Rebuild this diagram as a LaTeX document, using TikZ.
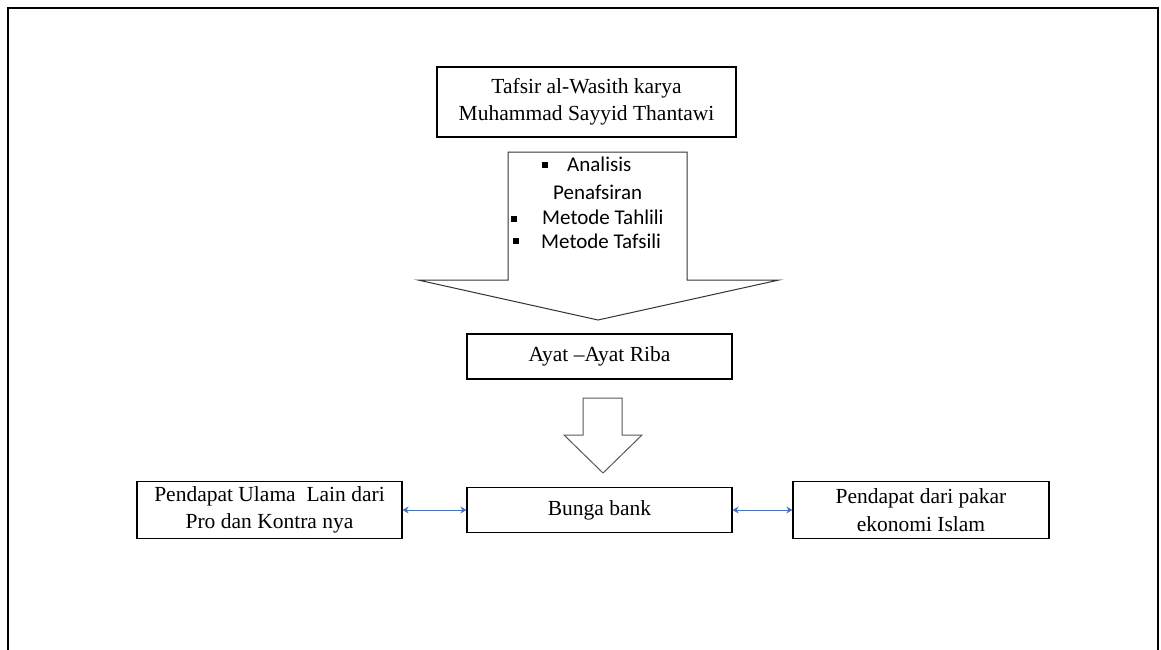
\documentclass[tikz,border=0pt]{standalone}
\usepackage{fontspec}
\setmainfont{Liberation Serif}
\newfontfamily\calib{Carlito}
\usetikzlibrary{arrows.meta}
\definecolor{linkblue}{RGB}{68,114,196}
\begin{document}
\begin{tikzpicture}[x=1pt,y=-1pt,
  box/.style={draw=black, line width=1.2pt, inner sep=0pt, align=center,
    font=\fontsize{21.5}{27.5}\selectfont},
  bigarrow/.style={draw=black!80, line width=1pt, fill=white, line join=miter},
  bul/.style={fill=black},
  bultext/.style={anchor=base west, inner sep=0pt, font=\calib\fontsize{21}{25}\selectfont},
  link/.style={draw=linkblue, line width=1pt, {Stealth[length=6pt,width=7pt]}-{Stealth[length=6pt,width=7pt]}}
]
\useasboundingbox (0,0) rectangle (1161,650);
\fill[white] (0,0) rectangle (1161,650);
% outer frame (bottom edge not shown)
\draw[line width=2.5pt] (8,650) -- (8,8) -- (1158,8) -- (1158,650);

% boxes
\node[box, minimum width=299pt, minimum height=70pt] (tafsir) at (586.5,102)
  {Tafsir al-Wasith karya\\Muhammad Sayyid Thantawi};
\node[box, minimum width=265pt, minimum height=45pt] (ayat) at (599.5,356.5)
  {Ayat --Ayat Riba};
\node[box, minimum width=265pt, minimum height=45pt] (bunga) at (599.5,510)
  {Bunga bank};
\node[box, minimum width=265pt, minimum height=57pt] (ulama) at (269.5,510)
  {Pendapat Ulama\ \ Lain dari\\Pro dan Kontra nya};
\node[box, minimum width=256pt, minimum height=57pt] (pakar) at (921,510)
  {Pendapat dari pakar\\ekonomi Islam};

% big block arrow
\draw[bigarrow] (508,152) -- (687,152) -- (687,280) -- (779,280) -- (598,320)
  -- (418,280) -- (508,280) -- cycle;
\coordinate (bigtip) at (598,320);

% bullet list inside the big arrow
\fill[bul] (542,162) rectangle (548,168);
\node[bultext] (t1) at (567,171) {Analisis};
\node[bultext] (t2) at (553,199) {Penafsiran};
\fill[bul] (511,216) rectangle (517,222);
\node[bultext] (t3) at (542,224) {Metode Tahlili};
\fill[bul] (513,238) rectangle (519,244);
\node[bultext] (t4) at (541,248) {Metode Tafsili};

% small block arrow
\draw[bigarrow, draw=black!65] (583,398) -- (622,398) -- (622,435) -- (642,435) -- (603,473)
  -- (564,435) -- (583,435) -- cycle;

% connectors
\draw[link] (ulama.east) -- (bunga.west);
\draw[link] (bunga.east) -- (pakar.west);
\end{tikzpicture}
\end{document}
